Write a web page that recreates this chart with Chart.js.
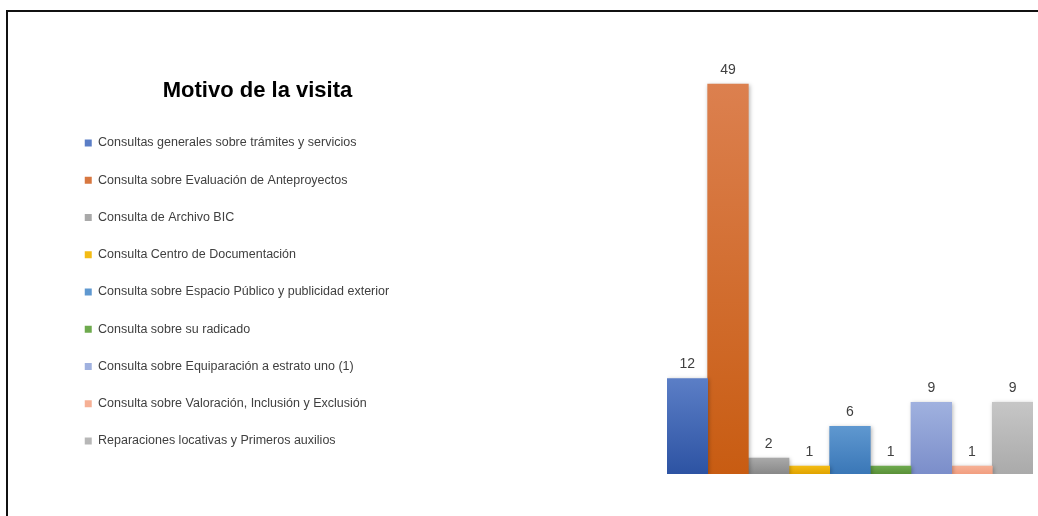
<!DOCTYPE html>
<html lang="es">
<head>
  <meta charset="UTF-8" />
  <title>Motivo de la visita</title>
  <script src="https://cdn.jsdelivr.net/npm/chart.js"></script>
  <style>
    body { margin: 0; background: #fff; font-family: "Liberation Sans", Arial, sans-serif; }
    #wrap { position: relative; width: 1038px; height: 516px; overflow: hidden; }
    #frame {
      position: absolute; left: 6px; top: 10px; width: 1100px; height: 600px;
      border-top: 2px solid #111; border-left: 2px solid #111;
    }
    #titulo {
      position: absolute; left: 0; top: 79px; width: 515px;
      text-align: center; font: bold 22px/22px "Liberation Sans", Arial, sans-serif; color: #000;
    }
    #chart { position: absolute; left: 0; top: 0; }
  </style>
</head>
<body>
  <div id="wrap">
    <div id="frame"></div>
    <canvas id="chart" width="1038" height="516"></canvas>
    <div id="titulo">Motivo de la visita</div>
  </div>

  <script>
    const motivos = [
      'Consultas generales sobre trámites y servicios',
      'Consulta sobre Evaluación de Anteproyectos',
      'Consulta de Archivo BIC',
      'Consulta Centro de Documentación',
      'Consulta sobre Espacio Público y publicidad exterior',
      'Consulta sobre su radicado',
      'Consulta sobre Equiparación a estrato uno (1)',
      'Consulta sobre Valoración, Inclusión y Exclusión',
      'Reparaciones locativas y Primeros auxilios'
    ];
    const visitas = [12, 49, 2, 1, 6, 1, 9, 1, 9];

    // colores de cada barra: arriba, abajo y el del cuadrito de la leyenda
    const colorArriba = ['#5b7ec6', '#dc804f', '#a9a9a9', '#f3bb14', '#5f98d0', '#6eaa4e', '#a0b1df', '#f6b095', '#c6c6c6'];
    const colorAbajo  = ['#2d53a3', '#c85c12', '#888888', '#e0a300', '#3a77b7', '#5a9038', '#7b8eca', '#f29e80', '#aaaaaa'];
    const colorLeyenda = ['#3b62b4', '#dd6f28', '#969696', '#ebb000', '#4a88c6', '#5f9c40', '#8a9fd6', '#f4a88a', '#bcbcbc'];

    const PAD_LEFT = 60;
    const BAR_LEFT = 667;

    function relleno(i) {
      return ctx => {
        const chart = ctx.chart;
        if (ctx.type !== 'data' || !chart.chartArea) return colorLeyenda[i];
        const y = chart.scales.y;
        const top = y.getPixelForValue(ctx.raw);
        const base = y.getPixelForValue(0);
        const g = chart.ctx.createLinearGradient(0, top, 0, base);
        g.addColorStop(0, colorArriba[i]);
        g.addColorStop(1, colorAbajo[i]);
        return g;
      };
    }

    // la leyenda ocupa todo el lado izquierdo, las barras empiezan en BAR_LEFT
    const anchoLeyenda = {
      id: 'anchoLeyenda',
      beforeLayout(chart) {
        const lg = chart.legend;
        if (!lg || lg._anchoFijo) return;
        const fit = lg.fit.bind(lg);
        lg.fit = function () {
          fit();
          this.width = BAR_LEFT - PAD_LEFT;
        };
        lg._anchoFijo = true;
      }
    };

    const sombraYValores = {
      id: 'sombraYValores',
      beforeDatasetsDraw(chart) {
        const c = chart.ctx;
        c.save();
        c.shadowColor = 'rgba(0,0,0,0.28)';
        c.shadowBlur = 4;
        c.shadowOffsetX = 1;
        c.shadowOffsetY = 1;
      },
      afterDatasetsDraw(chart) {
        const c = chart.ctx;
        c.restore();
        c.save();
        c.font = '14px "Liberation Sans", Arial, sans-serif';
        c.fillStyle = '#404040';
        c.textAlign = 'center';
        c.textBaseline = 'alphabetic';
        chart.data.datasets.forEach((ds, i) => {
          const bar = chart.getDatasetMeta(i).data[0];
          c.fillText(String(ds.data[0]), bar.x, bar.y - 10);
        });
        c.restore();
      }
    };

    new Chart(document.getElementById('chart'), {
      type: 'bar',
      data: {
        labels: [''],
        datasets: motivos.map((m, i) => ({
          label: m,
          data: [visitas[i]],
          backgroundColor: relleno(i),
          borderWidth: 0,
          barPercentage: 1,
          categoryPercentage: 1
        }))
      },
      options: {
        responsive: false,
        animation: false,
        layout: { padding: { left: PAD_LEFT, top: 76, right: 5, bottom: 8 } },
        scales: {
          x: {
            ticks: { display: false },
            grid: { display: false },
            border: { display: false },
            afterFit: s => { s.height = 34; }
          },
          y: {
            display: false,
            min: 0,
            max: 50
          }
        },
        plugins: {
          legend: {
            position: 'left',
            align: 'center',
            labels: {
              boxWidth: 7,
              boxHeight: 7,
              padding: 24.75,
              color: '#404040',
              font: { size: 12.5, family: '"Liberation Sans", Arial, sans-serif' }
            }
          },
          tooltip: { enabled: false }
        }
      },
      plugins: [anchoLeyenda, sombraYValores]
    });
  </script>
</body>
</html>
